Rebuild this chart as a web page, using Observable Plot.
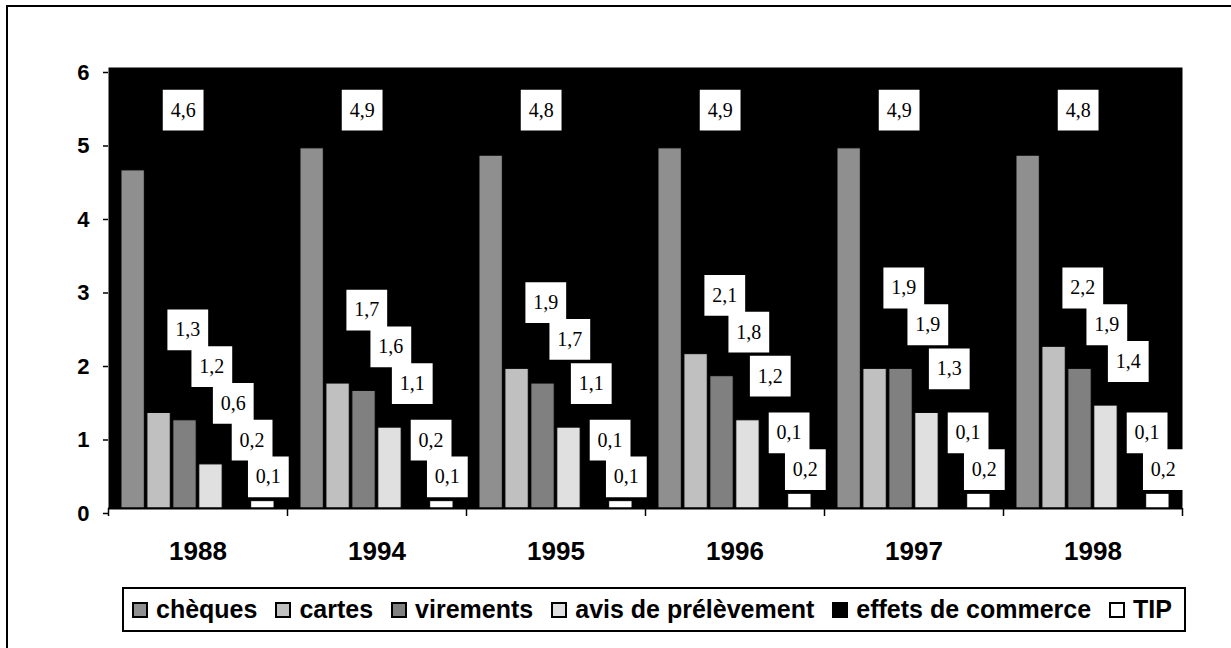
<!DOCTYPE html>
<html>
<head>
<meta charset="utf-8">
<script src="https://cdn.jsdelivr.net/npm/d3@7"></script>
<script src="https://cdn.jsdelivr.net/npm/@observablehq/plot@0.6"></script>
<style>
  html, body { margin: 0; padding: 0; background: #fff; overflow: hidden; }
  #wrap { position: relative; width: 1231px; height: 648px; overflow: hidden; }
  #chart { position: absolute; left: 0; top: 0; }
  #border { position: absolute; left: 6px; top: 5px; width: 1400px; height: 900px; border: 2px solid #000; pointer-events: none; z-index: 5; }
  #legend { position: absolute; left: 122px; top: 587px; width: 1064px; height: 45px; box-sizing: border-box;
    border: 2px solid #000; background: #fff; display: flex; align-items: center; padding-left: 8px;
    font-family: "Liberation Sans", Arial, sans-serif; font-weight: bold; font-size: 25px; color: #000; }
  .item { display: flex; align-items: center; margin-right: 18px; white-space: nowrap; }
  .sw { width: 16px; height: 16px; box-sizing: border-box; border: 2px solid #000; margin-right: 8px; }
</style>
</head>
<body>
<div id="wrap">
  <div id="chart"></div>
  <div id="legend"></div>
  <div id="border"></div>
</div>
<script>
// ---- data ----
const years = ["1988", "1994", "1995", "1996", "1997", "1998"];
const series = ["chèques", "cartes", "virements", "avis de prélèvement", "effets de commerce", "TIP"];
const cheques   = [4.6, 4.9, 4.8, 4.9, 4.9, 4.8];
const cartes    = [1.3, 1.7, 1.9, 2.1, 1.9, 2.2];
const virements = [1.2, 1.6, 1.7, 1.8, 1.9, 1.9];
const avis      = [0.6, 1.1, 1.1, 1.2, 1.3, 1.4];
const effets    = [0.2, 0.2, 0.1, 0.1, 0.1, 0.1];
const tip       = [0.1, 0.1, 0.1, 0.2, 0.2, 0.2];
const yTicks = [0, 1, 2, 3, 4, 5, 6];
const colors = ["#8f8f8f", "#c0c0c0", "#808080", "#e0e0e0", "#000000", "#ffffff"];

const seriesValues = [cheques, cartes, virements, avis, effets, tip];
const yMax = 6;

// inner band layout of the bars inside each year group (group = 1 unit of x)
const inner = d3.scaleBand().domain(series).range([0, 1]).paddingInner(0.1).paddingOuter(0.5);

const rows = [];
years.forEach((year, gi) => {
  // data-label cascade: each label sits above its bar and above the label to its right,
  // kept inside the top of the plot area
  const vals = seriesValues.map(v => v[gi]);
  const levels = [];
  let prev = -Infinity;
  for (let si = vals.length - 1; si >= 0; si--) {
    const lift = si === vals.length - 1 ? 0.33 : si === 0 ? 0.9 : 0.6;
    const lv = Math.min(Math.max(vals[si] + lift, prev + 0.5), yMax - 0.58);
    levels[si] = lv;
    prev = lv;
  }
  series.forEach((s, si) => {
    const x1 = gi + inner(s);
    rows.push({
      year, gi, series: s, si,
      value: vals[si],
      x1, x2: x1 + inner.bandwidth(), xc: x1 + inner.bandwidth() / 2,
      level: levels[si],
      label: vals[si].toFixed(1).replace(".", ",")
    });
  });
});

const labelDx = si => si === 0 ? 50 : 28 + 2 * si - 1.3 * si * si;

const labelMarks = [];
series.forEach((s, si) => {
  const sub = rows.filter(d => d.si === si);
  labelMarks.push(Plot.dot(sub, { x: "xc", y: "level", dx: labelDx(si), symbol: "square", r: 23, fill: "#fff", stroke: null }));
  labelMarks.push(Plot.text(sub, { x: "xc", y: "level", dx: labelDx(si), text: "label",
    fontFamily: "Liberation Serif, Times New Roman, serif", fontSize: 20, fill: "#000" }));
});

const chart = Plot.plot({
  width: 1231,
  height: 570,
  marginLeft: 108,
  marginRight: 49,
  marginTop: 67,
  marginBottom: 62,
  style: { background: "transparent", fontFamily: "Liberation Sans, Arial, sans-serif", color: "#000" },
  x: { domain: [0, years.length], axis: null },
  y: { domain: [0, yMax], axis: null },
  color: { domain: series, range: colors },
  marks: [
    Plot.frame({ fill: "#000", stroke: null }),
    Plot.rectY(rows, { x1: "x1", x2: "x2", y: "value", fill: "series", stroke: "#000", strokeWidth: 1 }),
    ...labelMarks,
    Plot.ruleY([0], { stroke: "#000", strokeWidth: 2 }),
    Plot.axisY({ ticks: yTicks, tickSize: 5, tickPadding: 14, fontSize: 22, fontWeight: "bold", dy: 5, stroke: "#000", strokeWidth: 1.5, tickFormat: d => String(d) }),
    Plot.axisX({ ticks: d3.range(years.length + 1), tickSize: 8, tickFormat: () => "", stroke: "#000", strokeWidth: 1.5 }),
    Plot.axisX({ ticks: years.map((y, i) => i + 0.5), tickSize: 0, tickPadding: 33, fontSize: 26, fontWeight: "bold",
      tickFormat: t => years[Math.floor(t)] })
  ]
});
document.getElementById("chart").appendChild(chart);

// ---- legend ----
const legend = document.getElementById("legend");
series.forEach((s, i) => {
  const item = document.createElement("div");
  item.className = "item";
  const sw = document.createElement("span");
  sw.className = "sw";
  sw.style.background = colors[i];
  const t = document.createElement("span");
  t.textContent = s;
  item.appendChild(sw);
  item.appendChild(t);
  legend.appendChild(item);
});
</script>
</body>
</html>
